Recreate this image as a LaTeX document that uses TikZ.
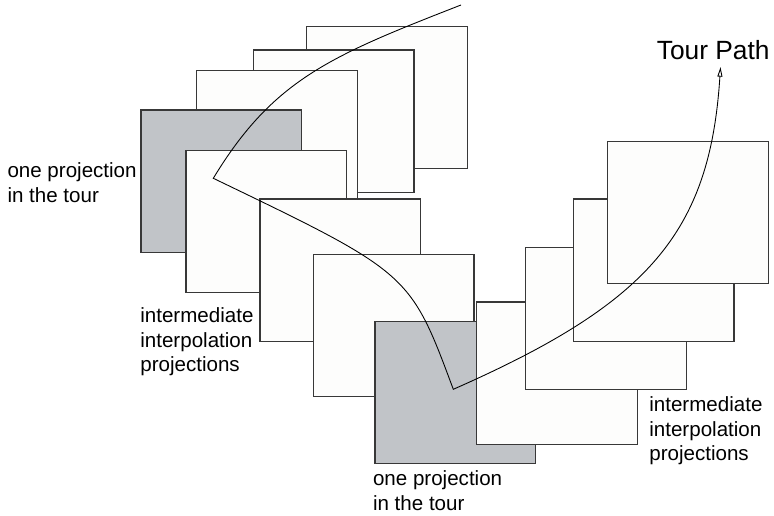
\documentclass[tikz,border=0pt]{standalone}
\usepackage{fontspec}
\setmainfont{Liberation Sans}
\usetikzlibrary{arrows.meta,positioning}
\definecolor{panelfill}{RGB}{253,253,252}
\definecolor{tourgray}{RGB}{193,196,200}

\begin{document}
\begin{tikzpicture}
[x=0.02cm,y=-0.02cm,
 panel/.style={rectangle,draw=black!78,fill=panelfill,line width=0.6pt,inner
    sep=0pt,outer sep=0pt,minimum width=3.214cm,minimum height=2.846cm,anchor=north west},
 keyview/.style={panel,fill=tourgray},
 notetext/.style={align=left,inner sep=0pt,font=\fontsize{11.7}{13.9}\selectfont},
 tourpath/.style={line width=0.5pt,-{Triangle[open,length=5.5pt,width=2.8pt]}}]
\useasboundingbox (0,0) rectangle (774,516);

% first group of views
\node[panel] (s1) at (306.7,26.7) {};
\node[panel] (s2) at (253.3,50) {};
\node[panel] (s3) at (196.7,70.7) {};
\node[keyview] (s4) at (141,110) {};
\node[panel] (s5) at (186,150.7) {};
\node[panel] (s6) at (260,199) {};
\node[panel] (s7) at (313.3,254.5) {};
% second group of views
\node[keyview] (s8) at (375,321.7) {};
\node[panel] (s9) at (476.7,302) {};
\node[panel] (s10) at (525.7,247.3) {};
\node[panel] (s11) at (573.3,199) {};
\node[panel] (s12) at (607.7,141.7) {};

\node[notetext,anchor=east] (tour1) at (137,182.5) {one projection\\in the tour};
\node[notetext,anchor=west] (interp1) at (140,342) {intermediate\\interpolation\\projections};
\node[notetext,anchor=west] (tour2) at (372.7,490.5) {one projection\\in the tour};
\node[notetext,anchor=west] (interp2) at (649,431) {intermediate\\interpolation\\projections};
\node[anchor=base west,inner sep=0pt,font=\fontsize{15}{18}\selectfont] (pathname) at (656.5,60) {Tour Path};

\coordinate (start) at (461,5);
\coordinate (bend1) at (213.3,178.3);
\coordinate (bend2) at (453.3,389.3);
\coordinate (tip) at (720.5,67);

\draw [tourpath] (start) .. controls (331,55.7) and (273.3,79.3) .. (bend1)
  .. controls (410,273) .. (bend2)
  .. controls (648.3,303.5) and (710,233) .. (tip);
\end{tikzpicture}
\end{document}
